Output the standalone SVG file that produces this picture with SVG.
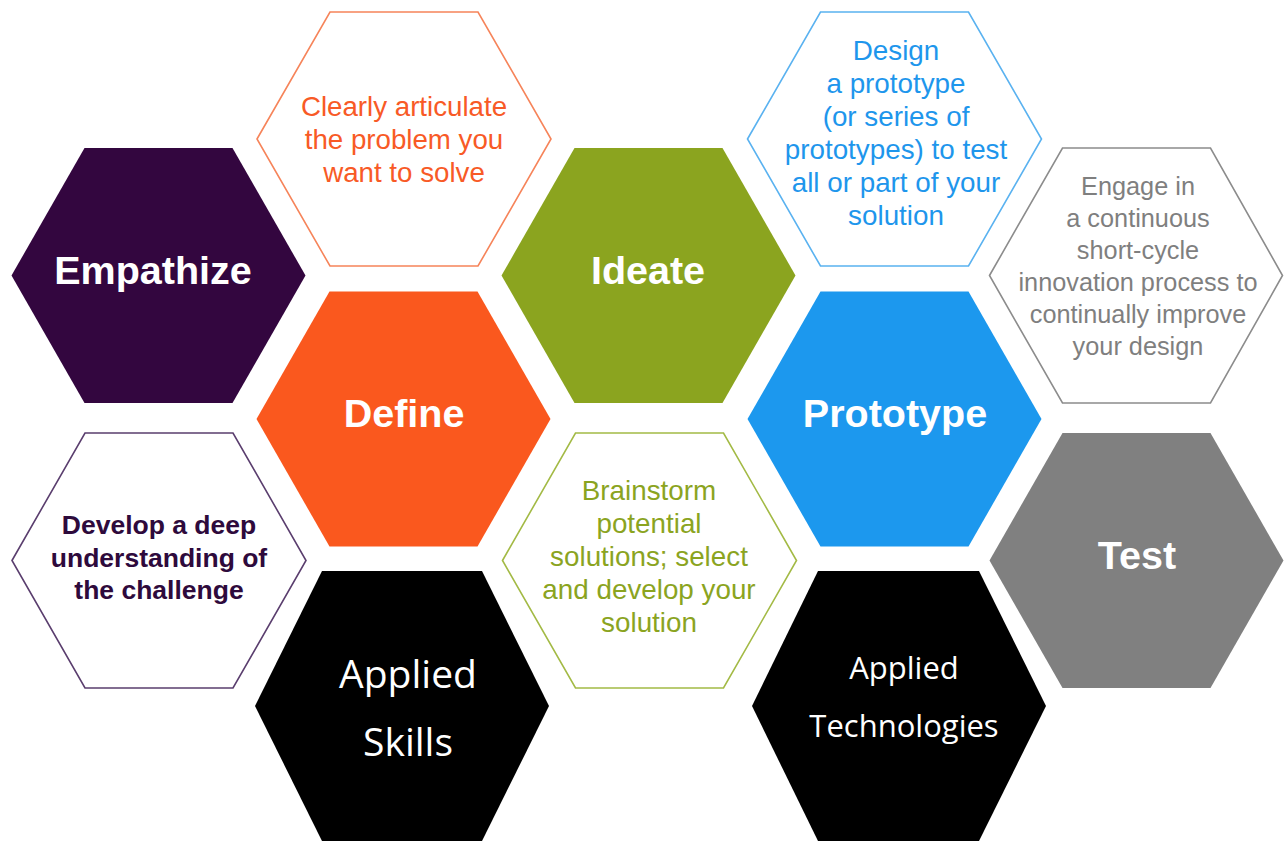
<svg xmlns="http://www.w3.org/2000/svg" width="1284" height="842" viewBox="0 0 1284 842">
<style>
.title{font-family:"Liberation Sans",Arial,sans-serif;font-weight:bold;font-size:39.5px;fill:#ffffff;text-anchor:middle}
.desc{font-family:"Liberation Sans",Arial,sans-serif;text-anchor:middle}
.dark{font-family:"Open Sans","DejaVu Sans",sans-serif;fill:#ffffff;text-anchor:middle}
.outline{fill:#ffffff;stroke-width:1.6}
</style>
<rect width="1284" height="842" fill="#ffffff"/>
<g id="connectors"></g>
<g id="define-desc">
<polygon class="outline" stroke="#F6845A" points="257,139 330,12 478,12 551,139 478,266 330,266"/>
<text class="desc" fill="#F85A26" font-size="27.7"><tspan x="404" y="116">Clearly articulate</tspan><tspan x="404" y="149">the problem you</tspan><tspan x="404" y="182">want to solve</tspan></text>
</g>
<g id="empathize">
<polygon fill="#33063F" points="11.5,275.5 84.5,148 232.5,148 305.5,275.5 232.5,403 84.5,403"/>
<text class="title" x="153" y="284">Empathize</text>
</g>
<g id="ideate">
<polygon fill="#8BA41F" points="501.5,275.5 574.5,148 722.5,148 795.5,275.5 722.5,403 574.5,403"/>
<text class="title" x="648" y="284">Ideate</text>
</g>
<g id="prototype-desc">
<polygon class="outline" stroke="#5AB2F0" points="747.5,139 820.5,12 968.5,12 1041.5,139 968.5,266 820.5,266"/>
<text class="desc" fill="#1E96EC" font-size="27.8"><tspan x="896" y="60">Design</tspan><tspan x="896" y="93">a prototype</tspan><tspan x="896" y="126">(or series of</tspan><tspan x="896" y="159">prototypes) to test</tspan><tspan x="896" y="192">all or part of your</tspan><tspan x="896" y="225">solution</tspan></text>
</g>
<g id="test-desc">
<polygon class="outline" stroke="#8C8C8C" points="989.5,275.5 1062.5,148 1210.5,148 1282.5,275.5 1210.5,403 1062.5,403"/>
<text class="desc" fill="#7F7F7F" font-size="25.3"><tspan x="1138" y="195">Engage in</tspan><tspan x="1138" y="227">a continuous</tspan><tspan x="1138" y="259">short-cycle</tspan><tspan x="1138" y="291">innovation process to</tspan><tspan x="1138" y="323">continually improve</tspan><tspan x="1138" y="355">your design</tspan></text>
</g>
<g id="define">
<polygon fill="#FA581E" points="256.5,419 329.5,291.5 477.5,291.5 550.5,419 477.5,546.5 329.5,546.5"/>
<text class="title" x="404" y="427">Define</text>
</g>
<g id="prototype">
<polygon fill="#1C98EE" points="747.5,419 820.5,291.5 968.5,291.5 1041.5,419 968.5,546.5 820.5,546.5"/>
<text class="title" x="895" y="427">Prototype</text>
</g>
<g id="empathize-desc">
<polygon class="outline" stroke="#5A3E6E" points="12,560.5 85,433 233,433 306,560.5 233,688 85,688"/>
<text class="desc" fill="#2E0A3C" font-weight="bold" font-size="26.5"><tspan x="159" y="534">Develop a deep</tspan><tspan x="159" y="567">understanding of</tspan><tspan x="159" y="599">the challenge</tspan></text>
</g>
<g id="ideate-desc">
<polygon class="outline" stroke="#A3BA45" points="502.5,560.5 575.5,433 723.5,433 796.5,560.5 723.5,688 575.5,688"/>
<text class="desc" fill="#8BA41F" font-size="27.8"><tspan x="649" y="500">Brainstorm</tspan><tspan x="649" y="533">potential</tspan><tspan x="649" y="566">solutions; select</tspan><tspan x="649" y="599">and develop your</tspan><tspan x="649" y="632">solution</tspan></text>
</g>
<g id="test">
<polygon fill="#808080" points="989.5,560.5 1062.5,433 1210.5,433 1283.5,560.5 1210.5,688 1062.5,688"/>
<text class="title" x="1137" y="569">Test</text>
</g>
<g id="applied-skills">
<polygon fill="#000000" points="255,706 322,571 482,571 549,706 482,841 322,841"/>
<text class="dark" font-size="39"><tspan x="408" y="688">Applied</tspan><tspan x="408" y="756">Skills</tspan></text>
</g>
<g id="applied-technologies">
<polygon fill="#000000" points="752,706 818,571 979,571 1046,706 979,841 818,841"/>
<text class="dark" font-size="31"><tspan x="904" y="679">Applied</tspan><tspan x="904" y="737">Technologies</tspan></text>
</g>
</svg>
